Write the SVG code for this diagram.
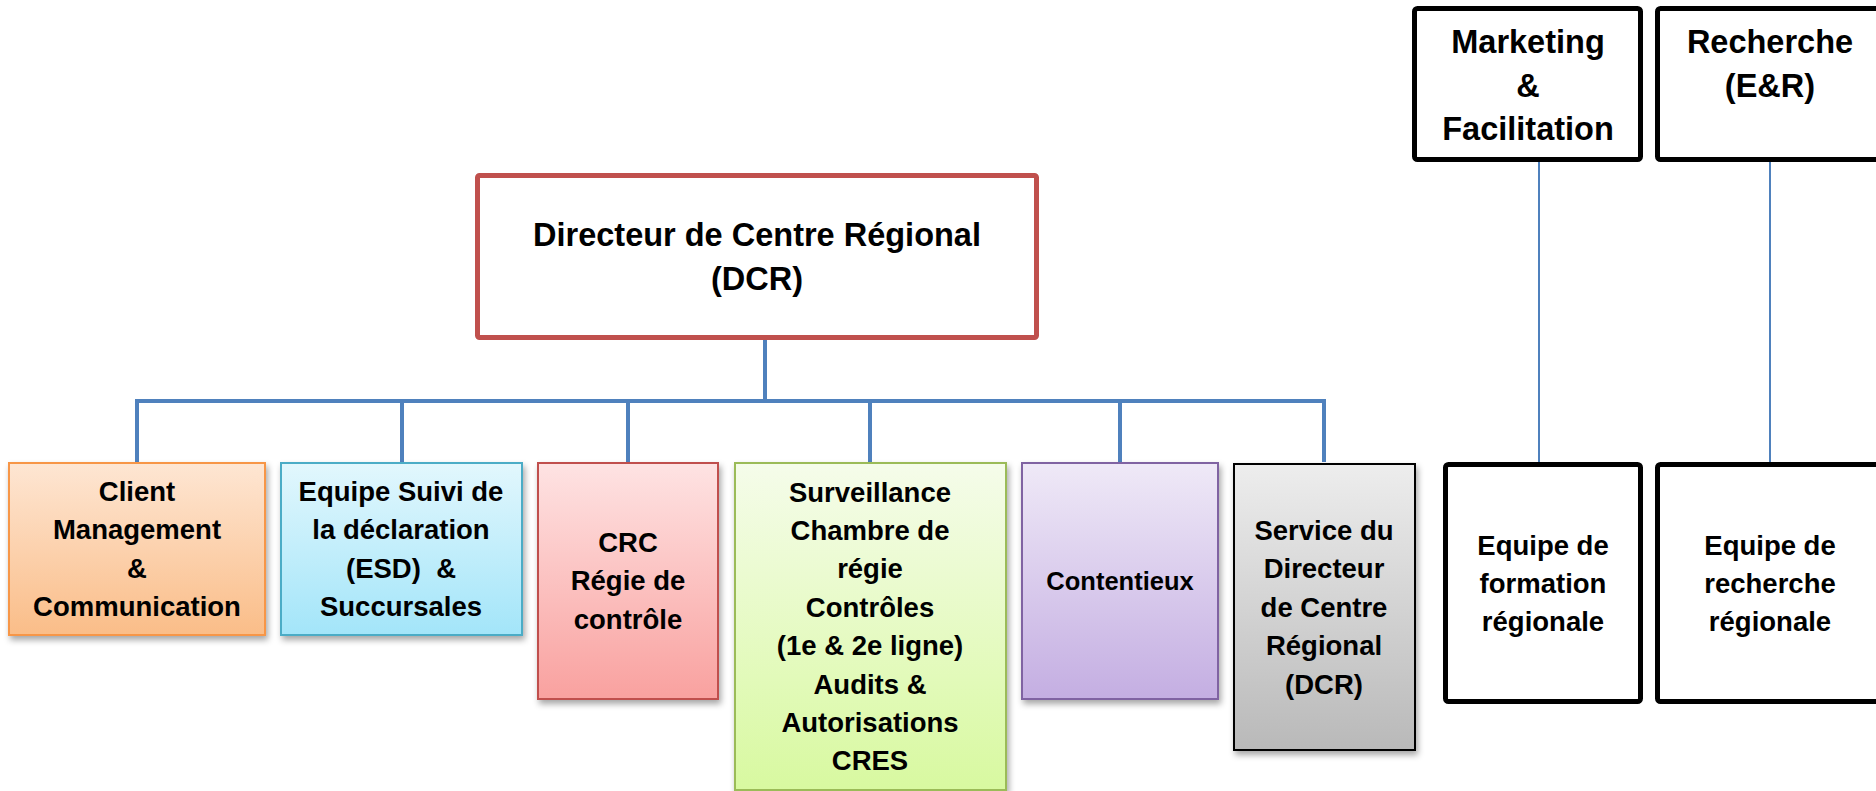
<svg xmlns="http://www.w3.org/2000/svg" width="1876" height="791" viewBox="0 0 1876 791">
<defs>
<linearGradient id="gOrange" x1="0" y1="0" x2="0" y2="1"><stop offset="0" stop-color="#FEE6D3"/><stop offset="1" stop-color="#FABD88"/></linearGradient>
<linearGradient id="gBlue" x1="0" y1="0" x2="0" y2="1"><stop offset="0" stop-color="#E2F7FD"/><stop offset="1" stop-color="#A3E5F9"/></linearGradient>
<linearGradient id="gRed" x1="0" y1="0" x2="0" y2="1"><stop offset="0" stop-color="#FEE3E3"/><stop offset="1" stop-color="#F9A19F"/></linearGradient>
<linearGradient id="gGreen" x1="0" y1="0" x2="0" y2="1"><stop offset="0" stop-color="#F5FCEA"/><stop offset="1" stop-color="#D8F9A0"/></linearGradient>
<linearGradient id="gPurple" x1="0" y1="0" x2="0" y2="1"><stop offset="0" stop-color="#EFE9F7"/><stop offset="1" stop-color="#C4AEE2"/></linearGradient>
<linearGradient id="gGrey" x1="0" y1="0" x2="0" y2="1"><stop offset="0" stop-color="#EDEDED"/><stop offset="1" stop-color="#B9B9B9"/></linearGradient>
<filter id="shadow" x="-10%" y="-10%" width="125%" height="125%"><feDropShadow dx="2" dy="4" stdDeviation="3" flood-color="#000" flood-opacity="0.35"/></filter>
</defs>
<style>
text{font-family:"Liberation Sans",Arial,sans-serif;font-weight:bold;fill:#000;text-anchor:middle}
.t{font-size:27.5px}
.big{font-size:32.5px}
.pre{white-space:pre}
.box{stroke-width:2}
.blk{fill:#fff;stroke:#000;stroke-width:5}
.conn{stroke:#4F81BD;stroke-width:4;fill:none}
.thin{stroke:#4F81BD;stroke-width:2;fill:none}
</style>
<g id="connectors">
<line class="conn" x1="765" y1="340" x2="765" y2="401"/>
<line class="conn" x1="135" y1="401" x2="1326" y2="401"/>
<line class="conn" x1="137" y1="401" x2="137" y2="462"/>
<line class="conn" x1="402" y1="401" x2="402" y2="462"/>
<line class="conn" x1="628" y1="401" x2="628" y2="462"/>
<line class="conn" x1="870" y1="401" x2="870" y2="462"/>
<line class="conn" x1="1120" y1="401" x2="1120" y2="462"/>
<line class="conn" x1="1324" y1="401" x2="1324" y2="462"/>
<line class="thin" x1="1539" y1="162" x2="1539" y2="462"/>
<line class="thin" x1="1770" y1="162" x2="1770" y2="462"/>
</g>
<g id="dcr">
<rect x="477.5" y="175.5" width="559" height="162" rx="2" fill="#fff" stroke="#C0504D" stroke-width="5"/>
<text class="big" x="757" y="246">Directeur de Centre Régional</text>
<text class="big" x="757" y="290">(DCR)</text>
</g>
<g id="client">
<rect class="box" x="9" y="463" width="256" height="172" fill="url(#gOrange)" stroke="#F79646" filter="url(#shadow)"/>
<text class="t" x="137"><tspan x="137" y="501">Client</tspan><tspan x="137" y="539.4">Management</tspan><tspan x="137" y="577.8">&amp;</tspan><tspan x="137" y="616.2">Communication</tspan></text>
</g>
<g id="esd">
<rect class="box" x="281" y="463" width="241" height="172" fill="url(#gBlue)" stroke="#4BACC6" filter="url(#shadow)"/>
<text class="t pre" x="401" xml:space="preserve"><tspan x="401" y="501">Equipe Suivi de</tspan><tspan x="401" y="539.4">la déclaration</tspan><tspan x="401" y="577.8">(ESD)  &amp;</tspan><tspan x="401" y="616.2">Succursales</tspan></text>
</g>
<g id="crc">
<rect class="box" x="538" y="463" width="180" height="236" fill="url(#gRed)" stroke="#C0504D" filter="url(#shadow)"/>
<text class="t" x="628"><tspan x="628" y="552">CRC</tspan><tspan x="628" y="590.4">Régie de</tspan><tspan x="628" y="628.8">contrôle</tspan></text>
</g>
<g id="surveillance">
<rect class="box" x="735" y="463" width="271" height="327" fill="url(#gGreen)" stroke="#9BBB59" filter="url(#shadow)"/>
<text class="t" x="870"><tspan x="870" y="501.5">Surveillance</tspan><tspan x="870" y="539.9">Chambre de</tspan><tspan x="870" y="578.3">régie</tspan><tspan x="870" y="616.7">Contrôles</tspan><tspan x="870" y="655.1">(1e &amp; 2e ligne)</tspan><tspan x="870" y="693.5">Audits &amp;</tspan><tspan x="870" y="731.9">Autorisations</tspan><tspan x="870" y="770.3">CRES</tspan></text>
</g>
<g id="contentieux">
<rect class="box" x="1022" y="463" width="196" height="236" fill="url(#gPurple)" stroke="#8064A2" filter="url(#shadow)"/>
<text x="1120" y="590" font-size="25.5">Contentieux</text>
</g>
<g id="service">
<rect class="box" x="1234" y="464" width="181" height="286" fill="url(#gGrey)" stroke="#000" filter="url(#shadow)"/>
<text class="t" x="1324"><tspan x="1324" y="540">Service du</tspan><tspan x="1324" y="578.4">Directeur</tspan><tspan x="1324" y="616.8">de Centre</tspan><tspan x="1324" y="655.2">Régional</tspan><tspan x="1324" y="693.6">(DCR)</tspan></text>
</g>
<g id="marketing">
<rect class="blk" x="1414.5" y="8.5" width="226" height="151" rx="3"/>
<text class="big"><tspan x="1528" y="53">Marketing</tspan><tspan x="1528" y="96.5">&amp;</tspan><tspan x="1528" y="140">Facilitation</tspan></text>
</g>
<g id="recherche">
<rect class="blk" x="1657.5" y="8.5" width="240" height="151" rx="3"/>
<text class="big"><tspan x="1770" y="53">Recherche</tspan><tspan x="1770" y="96.5">(E&amp;R)</tspan></text>
</g>
<g id="formation">
<rect class="blk" x="1445.5" y="464.5" width="195" height="237" rx="3"/>
<text class="t"><tspan x="1543" y="554.5">Equipe de</tspan><tspan x="1543" y="592.9">formation</tspan><tspan x="1543" y="631.3">régionale</tspan></text>
</g>
<g id="equipe-recherche">
<rect class="blk" x="1657.5" y="464.5" width="240" height="237" rx="3"/>
<text class="t"><tspan x="1770" y="554.5">Equipe de</tspan><tspan x="1770" y="592.9">recherche</tspan><tspan x="1770" y="631.3">régionale</tspan></text>
</g>
</svg>
